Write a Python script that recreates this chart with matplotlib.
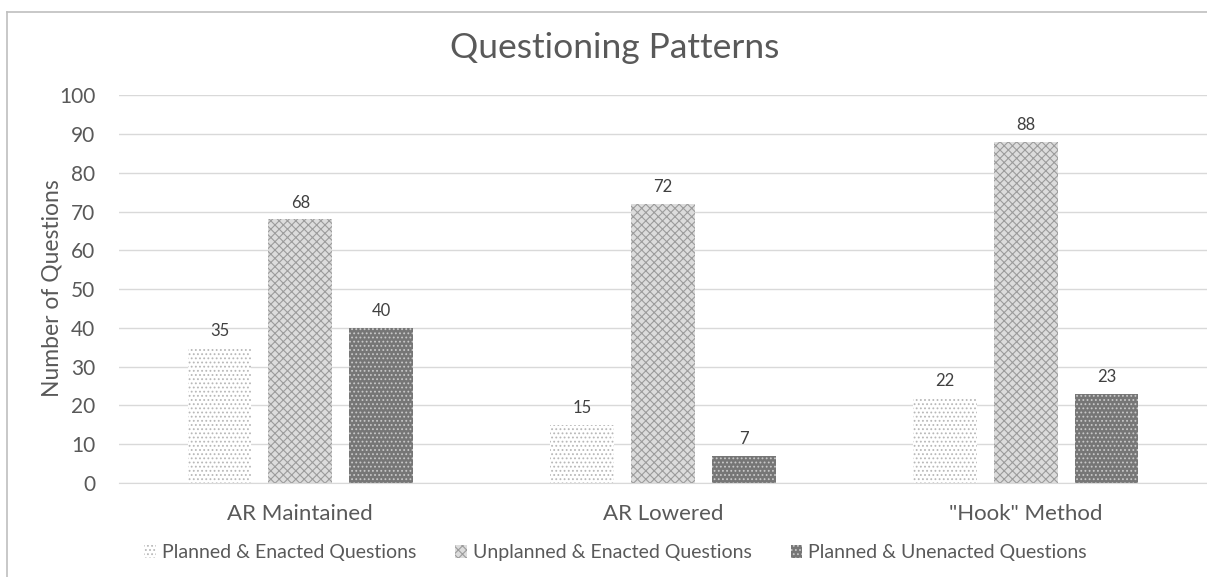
import matplotlib.pyplot as plt
import numpy as np
from matplotlib.lines import Line2D

plt.rcParams['font.family'] = ['Lato', 'DejaVu Sans']
plt.rcParams['hatch.linewidth'] = 0.8

categories = ['AR Maintained', 'AR Lowered', '"Hook" Method']
planned_enacted = [35, 15, 22]
unplanned_enacted = [68, 72, 88]
planned_unenacted = [40, 7, 23]
series_names = ['Planned & Enacted Questions', 'Unplanned & Enacted Questions',
                'Planned & Unenacted Questions']

text_color = '#595959'

fig = plt.figure(figsize=(12.07, 5.77), dpi=100)
ax = fig.add_axes([0.0986, 0.163, 0.9014, 0.672])

index = np.arange(len(categories))
bar_width = 0.176
offset = 0.223

styles = [
    dict(facecolor='white', edgecolor='#b8b8b8', hatch='....'),
    dict(facecolor='#dcdcdc', edgecolor='#9c9c9c', hatch='xxxx'),
    dict(facecolor='#767676', edgecolor='#c8c8c8', hatch='....'),
]
data = [planned_enacted, unplanned_enacted, planned_unenacted]

for i, (vals, name, st) in enumerate(zip(data, series_names, styles)):
    rects = ax.bar(index + (i - 1) * offset, vals, bar_width, label=name,
                   linewidth=0, zorder=2, **st)
    for r, v in zip(rects, vals):
        ax.annotate(str(v), (r.get_x() + r.get_width() / 2, v),
                    xytext=(0, 12), textcoords='offset points',
                    ha='center', va='center', fontsize=12, color='#404040')

ax.set_ylim(0, 100)
ax.set_xlim(-0.5, 2.5)
ax.set_yticks(range(0, 101, 10))
ax.yaxis.grid(True, color='#d9d9d9', linewidth=1, zorder=0)
ax.set_axisbelow(True)
for s in ['top', 'right', 'left']:
    ax.spines[s].set_visible(False)
ax.spines['bottom'].set_color('#d9d9d9')
ax.tick_params(axis='both', length=0, colors=text_color)
ax.tick_params(axis='y', pad=17, labelsize=15)
ax.tick_params(axis='x', pad=15, labelsize=16)
ax.set_xticks(index)
ax.set_xticklabels(categories)

fig.text(0.043, 0.501, 'Number of Questions', rotation=90, ha='center', va='center',
         fontsize=16.5, color=text_color)
fig.text(0.509, 0.917, 'Questioning Patterns', ha='center', va='center',
         fontsize=25.5, color=text_color)

leg = fig.legend(loc='center', bbox_to_anchor=(0.51, 0.042), ncol=3, frameon=False,
                 fontsize=14, handlelength=0.6, handleheight=0.6, handletextpad=0.3,
                 columnspacing=2.0, labelcolor=text_color)

# chart border (left and top visible)
fig.add_artist(Line2D([0.006, 0.006], [0, 0.979], color='#bfbfbf', lw=1.2,
                      transform=fig.transFigure))
fig.add_artist(Line2D([0.006, 1], [0.979, 0.979], color='#bfbfbf', lw=1.2,
                      transform=fig.transFigure))

fig.savefig('out.png', dpi=100)
